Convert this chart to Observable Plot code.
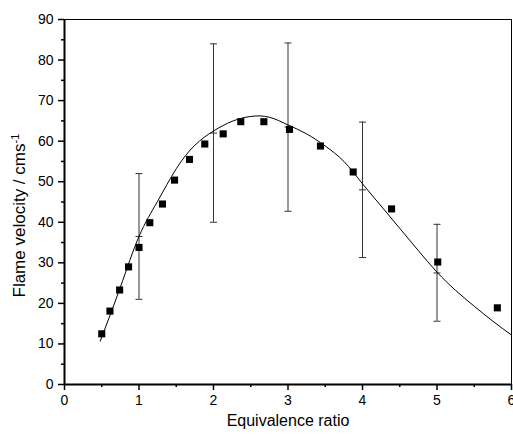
<!DOCTYPE html>
<html>
<head>
<meta charset="utf-8">
<script src="https://cdn.jsdelivr.net/npm/d3@7"></script>
<script src="https://cdn.jsdelivr.net/npm/@observablehq/plot@0.6"></script>
<style>
  html, body { margin: 0; padding: 0; background: white; }
</style>
</head>
<body>
<div id="chart"></div>
<script>
// Measured flame velocities
const obsX = [0.50, 0.61, 0.74, 0.86, 1.00, 1.145, 1.315, 1.477, 1.678, 1.883, 2.13, 2.366, 2.676, 3.02, 3.436, 3.875, 4.39, 5.01, 5.81];
const obsY = [12.5, 18.1, 23.3, 29.0, 33.8, 39.9, 44.5, 50.4, 55.5, 59.3, 61.8, 64.8, 64.8, 62.9, 58.8, 52.4, 43.3, 30.2, 18.9];

// Fitted curve
const fitX = [0.48, 0.75, 1.0, 1.25, 1.5, 1.75, 2.0, 2.25, 2.5, 2.75, 3.0, 3.25, 3.5, 3.75, 4.0, 4.25, 4.5, 4.75, 5.0, 5.25, 5.5, 5.75, 6.0];
const fitY = [10.7, 24.0, 36.5, 45.2, 53.2, 59.0, 62.5, 64.9, 66.1, 65.9, 64.0, 61.8, 58.8, 55.0, 49.5, 44.0, 38.5, 33.0, 27.7, 23.2, 19.3, 15.6, 12.2];

// Error bars
const errX = [1, 2, 3, 4, 5];
const errMid = [36.5, 62.0, 63.5, 48.0, 27.5];
const errLow = [21.0, 40.0, 42.7, 31.3, 15.6];
const errHigh = [52.0, 84.0, 84.2, 64.7, 39.5];

// Axis ticks
const xTicks = [0, 1, 2, 3, 4, 5, 6];
const xMinor = [0.5, 1.5, 2.5, 3.5, 4.5, 5.5];
const yTicks = [0, 10, 20, 30, 40, 50, 60, 70, 80, 90];
const yMinor = [5, 15, 25, 35, 45, 55, 65, 75, 85];

const xLabel = "Equivalence ratio";
const yLabel = "Flame velocity / cms";
const ySup = "-1";

const obs = obsX.map((x, i) => ({x, y: obsY[i]}));
const fit = fitX.map((x, i) => ({x, y: fitY[i]}));
const err = errX.map((x, i) => ({x, mid: errMid[i], low: errLow[i], high: errHigh[i]}));

const capSymbol = {
  draw(ctx) { ctx.moveTo(-3.5, 0); ctx.lineTo(3.5, 0); }
};

const chart = Plot.plot({
  width: 513,
  height: 435,
  marginLeft: 64,
  marginRight: 2,
  marginTop: 19,
  marginBottom: 51,
  style: {fontFamily: "'Liberation Sans', Arial, sans-serif", background: "white", color: "black"},
  x: {domain: [0, 6]},
  y: {domain: [0, 90]},
  marks: [
    Plot.axisX({ticks: xTicks, tickFormat: d => String(d), tickSize: 6, tickPadding: 5, fontSize: 14, strokeWidth: 1.5, label: null}),
    Plot.axisX({ticks: xMinor, tickSize: 3, tickFormat: () => "", strokeWidth: 1.5, label: null}),
    Plot.axisY({ticks: yTicks, tickFormat: d => String(d), tickSize: 6, tickPadding: 5, fontSize: 14, strokeWidth: 1.5, label: null}),
    Plot.axisY({ticks: yMinor, tickSize: 3, tickFormat: () => "", strokeWidth: 1.5, label: null}),
    Plot.frame({stroke: "black", strokeWidth: 1}),
    Plot.ruleX([0], {stroke: "black", strokeWidth: 2}),
    Plot.ruleY([0], {stroke: "black", strokeWidth: 2}),
    Plot.ruleX(err, {x: "x", y1: "low", y2: "high", stroke: "#333", strokeWidth: 1}),
    Plot.dot(err, {x: "x", y: "low", symbol: capSymbol, r: 2, fill: "none", stroke: "#333", strokeWidth: 1}),
    Plot.dot(err, {x: "x", y: "high", symbol: capSymbol, r: 2, fill: "none", stroke: "#333", strokeWidth: 1}),
    Plot.dot(err, {x: "x", y: "mid", symbol: capSymbol, r: 2, fill: "none", stroke: "#333", strokeWidth: 1}),
    Plot.line(fit, {x: "x", y: "y", curve: "natural", stroke: "black", strokeWidth: 1}),
    Plot.dot(obs, {x: "x", y: "y", symbol: "square", r: 4, fill: "black", stroke: "none"}),
    Plot.text([xLabel], {text: d => d, frameAnchor: "bottom", dy: 41, fontSize: 16, fill: "black"}),
    Plot.text([yLabel], {text: d => d, frameAnchor: "left", rotate: -90, textAnchor: "start", dx: -45, dy: 95.5, fontSize: 17, fill: "black"})
  ]
});

document.getElementById("chart").appendChild(chart);

// add superscript to the y label
for (const t of chart.querySelectorAll("text")) {
  if (t.textContent === yLabel) {
    const sup = document.createElementNS("http://www.w3.org/2000/svg", "tspan");
    sup.setAttribute("baseline-shift", "super");
    sup.setAttribute("font-size", "11");
    sup.textContent = ySup;
    t.appendChild(sup);
  }
}
</script>
</body>
</html>
